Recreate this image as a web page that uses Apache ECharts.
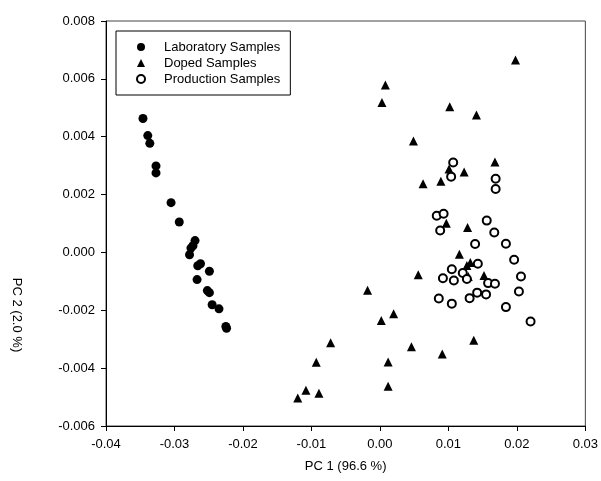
<!DOCTYPE html>
<html>
<head>
<meta charset="utf-8">
<script src="https://cdn.jsdelivr.net/npm/echarts@6/dist/echarts.min.js"></script>
<style>
  html, body { margin: 0; padding: 0; background: #fff; }
  #main { width: 601px; height: 481px; }
</style>
</head>
<body>
<div id="main"></div>
<script>
// PCA scores, [PC1, PC2]
var labSamples = [
  [-0.0346, 0.00463], [-0.0339, 0.00404], [-0.0336, 0.00377], [-0.0327, 0.00299],
  [-0.0327, 0.00275], [-0.0305, 0.00172], [-0.0293, 0.00105], [-0.0270, 0.00041],
  [-0.0273, 0.00023], [-0.0276, 0.00015], [-0.0278, -0.00008], [-0.0266, -0.00046],
  [-0.0262, -0.00039], [-0.0249, -0.00065], [-0.0267, -0.00094], [-0.0252, -0.00132],
  [-0.0249, -0.00139], [-0.0245, -0.00181], [-0.0235, -0.00195], [-0.0225, -0.00256],
  [-0.0224, -0.00262]
];
var dopedSamples = [
  [0.0198, 0.00665], [0.0008, 0.00579], [0.0003, 0.00518], [0.0102, 0.00504],
  [0.0141, 0.00475], [0.0049, 0.00385], [0.0168, 0.00313], [0.0101, 0.00288],
  [0.0123, 0.00278], [0.0063, 0.00237], [0.0089, 0.00246], [0.0097, 0.00101],
  [0.0128, 0.00086], [0.0116, -0.00006], [0.0127, -0.00045], [0.0132, -0.00035],
  [0.0129, -0.00083], [0.0152, -0.00080], [0.0056, -0.00077], [-0.0018, -0.00131],
  [0.0020, -0.00212], [0.0002, -0.00235], [-0.0072, -0.00312], [0.0046, -0.00326],
  [0.0137, -0.00304], [0.0091, -0.00351], [-0.0093, -0.00380], [0.0012, -0.00379],
  [0.0012, -0.00463], [-0.0108, -0.00476], [-0.0089, -0.00487], [-0.0120, -0.00503]
];
var productionSamples = [
  [0.0107, 0.00311], [0.0104, 0.00262], [0.0169, 0.00255], [0.0169, 0.00219],
  [0.0083, 0.00127], [0.0093, 0.00134], [0.0088, 0.00076], [0.0156, 0.00110],
  [0.0167, 0.00069], [0.0139, 0.00029], [0.0184, 0.00030], [0.0196, -0.00025],
  [0.0143, -0.00039], [0.0105, -0.00058], [0.0121, -0.00071], [0.0092, -0.00089],
  [0.0108, -0.00097], [0.0127, -0.00092], [0.0158, -0.00106], [0.0168, -0.00108],
  [0.0206, -0.00083], [0.0142, -0.00139], [0.0155, -0.00145], [0.0203, -0.00135],
  [0.0086, -0.00159], [0.0131, -0.00158], [0.0105, -0.00177], [0.0184, -0.00189],
  [0.0220, -0.00239]
];
var seriesNames = ['Laboratory Samples', 'Doped Samples', 'Production Samples'];

var font = 'Liberation Sans, Arial, sans-serif';
var chart = echarts.init(document.getElementById('main'), null, { renderer: 'canvas' });

var axisCommon = {
  axisLine: { show: true, onZero: false, lineStyle: { color: '#000', width: 1 } },
  axisTick: { show: true, inside: false, length: 5, lineStyle: { color: '#000' } },
  splitLine: { show: false },
  axisLabel: { color: '#000', fontFamily: font, fontSize: 13 }
};

var option = {
  animation: false,
  backgroundColor: '#fff',
  grid: {
    left: 106, right: 15, top: 21, bottom: 55,
    show: true, borderColor: '#444', borderWidth: 1
  },
  legend: {
    orient: 'vertical',
    left: 116, top: 31,
    padding: [9, 10, 9, 20],
    itemWidth: 8, itemHeight: 8, itemGap: 2,
    borderColor: '#000', borderWidth: 1,
    backgroundColor: '#fff',
    textStyle: { color: '#000', fontFamily: font, fontSize: 13, lineHeight: 14, padding: [0, 0, 0, 14] },
    data: seriesNames
  },
  xAxis: Object.assign({}, axisCommon, {
    type: 'value', min: -0.04, max: 0.03, interval: 0.01,
    name: 'PC 1 (96.6 %)', nameLocation: 'middle', nameGap: 34,
    nameTextStyle: { color: '#000', fontFamily: font, fontSize: 13 },
    axisLabel: Object.assign({}, axisCommon.axisLabel, {
      margin: 12,
      formatter: function (v) { return v.toFixed(2); }
    })
  }),
  yAxis: Object.assign({}, axisCommon, {
    type: 'value', min: -0.006, max: 0.008, interval: 0.002,
    axisLabel: Object.assign({}, axisCommon.axisLabel, {
      margin: 11,
      formatter: function (v) { return v.toFixed(3); }
    })
  }),
  graphic: [{
    type: 'text',
    x: 17, y: 315,
    rotation: -Math.PI / 2,
    style: {
      text: 'PC 2 (2.0 %)',
      fill: '#000',
      font: '13px ' + font,
      align: 'center',
      verticalAlign: 'middle'
    }
  }],
  series: [
    {
      name: seriesNames[0], type: 'scatter', data: labSamples,
      symbol: 'circle', symbolSize: 9,
      itemStyle: { color: '#000', opacity: 1 }
    },
    {
      name: seriesNames[1], type: 'scatter', data: dopedSamples,
      symbol: 'triangle', symbolSize: 9,
      itemStyle: { color: '#000', opacity: 1 }
    },
    {
      name: seriesNames[2], type: 'scatter', data: productionSamples,
      symbol: 'circle', symbolSize: 8,
      itemStyle: { color: '#fff', borderColor: '#000', borderWidth: 2, opacity: 1 }
    }
  ]
};

chart.setOption(option);
</script>
</body>
</html>
